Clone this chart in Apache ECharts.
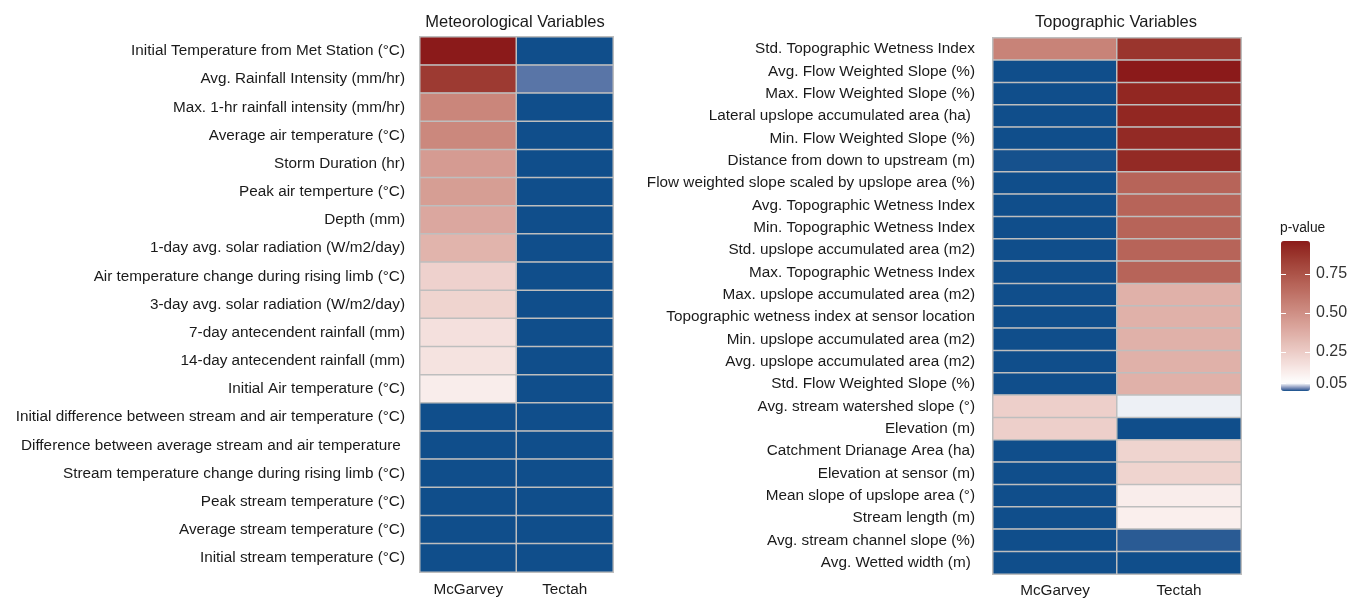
<!DOCTYPE html>
<html>
<head>
<meta charset="utf-8">
<script src="https://cdn.jsdelivr.net/npm/echarts@6/dist/echarts.min.js"></script>
<style>
  html, body { margin: 0; padding: 0; background: #fff; }
  #main { width: 1359px; height: 599px; }
</style>
</head>
<body>
<div id="main"></div>
<script>
// sites (columns of both heatmaps)
const sites = ['McGarvey', 'Tectah'];

// meteorological variables, top to bottom
const metVars = [
  'Initial Temperature from Met Station (°C)',
  'Avg. Rainfall Intensity (mm/hr)',
  'Max. 1-hr rainfall intensity (mm/hr)',
  'Average air temperature (°C)',
  'Storm Duration (hr)',
  'Peak air temperture (°C)',
  'Depth (mm)',
  '1-day avg. solar radiation (W/m2/day)',
  'Air temperature change during rising limb (°C)',
  '3-day avg. solar radiation (W/m2/day)',
  '7-day antecendent rainfall (mm)',
  '14-day antecendent rainfall (mm)',
  'Initial Air temperature (°C)',
  'Initial difference between stream and air temperature (°C)',
  'Difference between average stream and air temperature ',
  'Stream temperature change during rising limb (°C)',
  'Peak stream temperature (°C)',
  'Average stream temperature (°C)',
  'Initial stream temperature (°C)'
];
const metMcGarvey = [0.96, 0.85, 0.54, 0.53, 0.45, 0.44, 0.40, 0.35, 0.23, 0.22, 0.17, 0.16, 0.12,
  0, 0, 0, 0, 0, 0];
const metTectah = [0, 0.012, 0, 0, 0, 0, 0, 0, 0, 0, 0, 0, 0, 0, 0, 0, 0, 0, 0];

// topographic variables, top to bottom
const topoVars = [
  'Std. Topographic Wetness Index',
  'Avg. Flow Weighted Slope (%)',
  'Max. Flow Weighted Slope (%)',
  'Lateral upslope accumulated area (ha) ',
  'Min. Flow Weighted Slope (%)',
  'Distance from down to upstream (m)',
  'Flow weighted slope scaled by upslope area (%)',
  'Avg. Topographic Wetness Index',
  'Min. Topographic Wetness Index',
  'Std. upslope accumulated area (m2)',
  'Max. Topographic Wetness Index',
  'Max. upslope accumulated area (m2)',
  'Topographic wetness index at sensor location',
  'Min. upslope accumulated area (m2)',
  'Avg. upslope accumulated area (m2)',
  'Std. Flow Weighted Slope (%)',
  'Avg. stream watershed slope (°)',
  'Elevation (m)',
  'Catchment Drianage Area (ha)',
  'Elevation at sensor (m)',
  'Mean slope of upslope area (°)',
  'Stream length (m)',
  'Avg. stream channel slope (%)',
  'Avg. Wetted width (m) '
];
const topoMcGarvey = [0.55, 0, 0, 0, 0, 0.001, 0, 0, 0, 0, 0, 0, 0, 0, 0, 0,
  0.24, 0.24, 0, 0, 0, 0, 0, 0];
const topoTectah = [0.87, 0.96, 0.92, 0.92, 0.91, 0.91, 0.68, 0.68, 0.68, 0.68, 0.68,
  0.36, 0.36, 0.36, 0.36, 0.36, 0.046, 0, 0.22, 0.22, 0.12, 0.115, 0.004, 0];

// legend tick labels
const legendTicks = [0.05, 0.25, 0.50, 0.75];
const pMin = 0, pMid = 0.05, pMax = 0.96;

function toCells(cols) {
  const out = [];
  cols.forEach((col, x) => col.forEach((v, y) => out.push([x, y, v])));
  return out;
}

// colour ramp interpolated in Lab like ggplot does: blue -> white at 0.05 -> red
function toLab(rgb) {
  const lin = rgb.map(c => { c /= 255; return c <= 0.04045 ? c / 12.92 : Math.pow((c + 0.055) / 1.055, 2.4); });
  const X = (0.4124 * lin[0] + 0.3576 * lin[1] + 0.1805 * lin[2]) / 0.95047;
  const Y = 0.2126 * lin[0] + 0.7152 * lin[1] + 0.0722 * lin[2];
  const Z = (0.0193 * lin[0] + 0.1192 * lin[1] + 0.9505 * lin[2]) / 1.08883;
  const f = t => t > 0.008856 ? Math.cbrt(t) : 7.787 * t + 16 / 116;
  const fx = f(X), fy = f(Y), fz = f(Z);
  return [116 * fy - 16, 500 * (fx - fy), 200 * (fy - fz)];
}
function fromLab(lab) {
  const fy = (lab[0] + 16) / 116, fx = fy + lab[1] / 500, fz = fy - lab[2] / 200;
  const inv = f => f * f * f > 0.008856 ? f * f * f : (f - 16 / 116) / 7.787;
  const X = inv(fx) * 0.95047, Y = inv(fy), Z = inv(fz) * 1.08883;
  const lin = [
    3.2406 * X - 1.5372 * Y - 0.4986 * Z,
    -0.9689 * X + 1.8758 * Y + 0.0415 * Z,
    0.0557 * X - 0.2040 * Y + 1.0570 * Z
  ];
  const rgb = lin.map(c => {
    c = c <= 0.0031308 ? 12.92 * c : 1.055 * Math.pow(c, 1 / 2.4) - 0.055;
    return Math.max(0, Math.min(255, Math.round(c * 255)));
  });
  return 'rgb(' + rgb.join(',') + ')';
}
function mix(a, b, t) {
  const la = toLab(a), lb = toLab(b);
  return fromLab(la.map((c, i) => c + (lb[i] - c) * t));
}
const low = [16, 78, 139], white = [255, 255, 255], high = [139, 26, 26];
const rampColors = [];
for (let i = 0; i <= Math.round((pMax - pMin) * 100); i++) {
  const v = pMin + i / 100;
  rampColors.push(v <= pMid ? mix(low, white, (v - pMin) / (pMid - pMin))
                            : mix(white, high, (v - pMid) / (pMax - pMid)));
}

const textColor = '#1a1a1a';
const labelFont = { fontFamily: 'Liberation Sans', fontSize: 15.3, color: textColor };
const cellStyle = { borderColor: '#bebebe', borderWidth: 1.5 };

const chart = echarts.init(document.getElementById('main'));

const option = {
  animation: false,
  textStyle: { fontFamily: 'Liberation Sans' },
  title: [
    { text: 'Meteorological Variables', left: 510, top: 9, textAlign: 'center',
      textStyle: { fontFamily: 'Liberation Sans', fontSize: 16.5, fontWeight: 'normal', color: textColor } },
    { text: 'Topographic Variables', left: 1111, top: 9, textAlign: 'center',
      textStyle: { fontFamily: 'Liberation Sans', fontSize: 16.5, fontWeight: 'normal', color: textColor } },
    { text: 'p-value', left: 1280, top: 221, padding: 0,
      textStyle: { fontFamily: 'Liberation Sans', fontSize: 13.8, fontWeight: 'normal', color: textColor } }
  ],
  grid: [
    { left: 420, top: 37, width: 193, height: 535 },
    { left: 993, top: 38, width: 248, height: 536 },
    { left: 1281, top: 241, width: 29, height: 150 }
  ],
  xAxis: [
    { type: 'category', gridIndex: 0, data: sites, position: 'bottom',
      axisLine: { show: false }, axisTick: { show: false }, splitLine: { show: false },
      axisLabel: Object.assign({ margin: 10 }, labelFont) },
    { type: 'category', gridIndex: 1, data: sites, position: 'bottom',
      axisLine: { show: false }, axisTick: { show: false }, splitLine: { show: false },
      axisLabel: Object.assign({ margin: 9 }, labelFont) },
    { type: 'category', gridIndex: 2, data: [''], show: false }
  ],
  yAxis: [
    { type: 'category', gridIndex: 0, data: metVars, inverse: true,
      axisLine: { show: false }, axisTick: { show: false }, splitLine: { show: false },
      axisLabel: Object.assign({ margin: 15 }, labelFont) },
    { type: 'category', gridIndex: 1, data: topoVars, inverse: true,
      axisLine: { show: false }, axisTick: { show: false }, splitLine: { show: false },
      axisLabel: Object.assign({ margin: 18 }, labelFont) },
    { type: 'value', gridIndex: 2, min: pMin, max: pMax, position: 'right', z: 10,
      axisLine: { show: false }, splitLine: { show: false },
      axisTick: { show: true, inside: true, length: 5, customValues: legendTicks,
        lineStyle: { color: '#ffffff', width: 1 } },
      axisLabel: { show: true, customValues: legendTicks, margin: 6,
        formatter: v => v.toFixed(2),
        fontFamily: 'Liberation Sans', fontSize: 16, color: '#333' } },
    { type: 'value', gridIndex: 2, min: pMin, max: pMax, position: 'left', z: 10,
      axisLine: { show: false }, splitLine: { show: false }, axisLabel: { show: false },
      axisTick: { show: true, inside: true, length: 5, customValues: legendTicks,
        lineStyle: { color: '#ffffff', width: 1 } } }
  ],
  visualMap: {
    type: 'continuous',
    min: pMin, max: pMax,
    dimension: 2,
    seriesIndex: [0, 1],
    calculable: false,
    realtime: false,
    left: 1281, top: 241,
    padding: 0,
    itemWidth: 29, itemHeight: 150,
    text: null,
    showLabel: false,
    inRange: { color: rampColors }
  },
  series: [
    { type: 'heatmap', xAxisIndex: 0, yAxisIndex: 0,
      data: toCells([metMcGarvey, metTectah]),
      itemStyle: cellStyle, emphasis: { disabled: true } },
    { type: 'heatmap', xAxisIndex: 1, yAxisIndex: 1,
      data: toCells([topoMcGarvey, topoTectah]),
      itemStyle: cellStyle, emphasis: { disabled: true } }
  ]
};

chart.setOption(option);
</script>
</body>
</html>
